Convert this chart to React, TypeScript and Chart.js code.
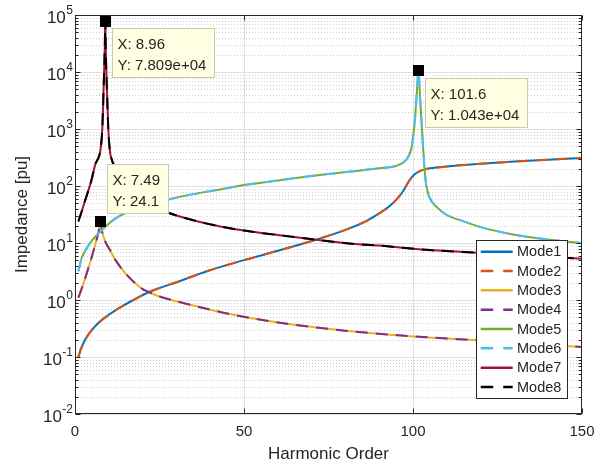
import React, { useEffect, useRef } from 'react';
import { Chart, registerables } from 'chart.js';

Chart.register(...registerables);

// ---------- data ----------
const modeLabels = ['Mode1', 'Mode2', 'Mode3', 'Mode4', 'Mode5', 'Mode6', 'Mode7', 'Mode8'];
const modeColors = ['#0072BD', '#D95319', '#EDB120', '#7E2F8E', '#77AC30', '#4DBEEE', '#A2142F', '#000000'];
const modeDashed = [false, true, false, true, false, true, false, true];

// Mode1 / Mode2 (identical curves)
const mode12X = [1, 1.5, 2, 3, 4, 5, 7, 10, 13, 17, 21, 25, 30, 39, 50, 60, 71, 80, 86, 90, 93, 95, 97, 99, 100.5, 102, 103.5, 105, 110, 120, 130, 140, 150];
const mode12Y = [0.1, 0.125, 0.15, 0.2, 0.25, 0.3, 0.4, 0.55, 0.72, 0.98, 1.3, 1.62, 2.05, 3.2, 5.0, 7.3, 11.3, 17, 24, 33, 44, 57, 80, 127, 160, 182, 196, 204, 220, 245, 268, 290, 310];

// Mode3 / Mode4
const mode34X = [1, 2, 3, 4, 5, 6, 7, 7.49, 8, 9, 10.3, 12, 15, 20, 21, 25, 30, 35, 45, 55, 66, 80, 100, 117, 135, 150];
const mode34Y = [1.1, 1.6, 2.4, 3.7, 5.8, 9.5, 16, 24.1, 16, 10.5, 7.6, 5.0, 2.9, 1.55, 1.45, 1.15, 0.95, 0.8, 0.58, 0.45, 0.36, 0.29, 0.23, 0.2, 0.17, 0.15];

// Mode5 / Mode6
const mode56X = [1, 2, 3, 5, 8, 12, 17, 22, 27, 35, 43, 50, 60, 70, 81, 90, 95, 97, 98.5, 99.5, 100.5, 101.1, 101.6, 102.1, 102.7, 103.3, 103.8, 104.8, 107, 110, 115, 120, 130, 140, 150];
const mode56Y = [3.2, 5.5, 7.3, 11, 17, 27, 38, 48, 57, 72, 87, 104, 125, 150, 178, 205, 225, 255, 320, 450, 1300, 4000, 10430, 3500, 900, 250, 115, 65, 43, 31, 24, 19, 14, 11.5, 10];

// Mode7 / Mode8
const mode78X = [1, 2, 3, 4, 5, 6, 7, 7.5, 8.07, 8.5, 8.8, 8.96, 9.1, 9.4, 9.85, 10.3, 10.8, 12, 14, 17, 20, 23, 27, 35, 43, 50, 60, 72, 81, 90, 105, 114, 130, 150];
const mode78Y = [24, 36, 56, 85, 135, 240, 320, 420, 1000, 6000, 25000, 78090, 25000, 6000, 1000, 420, 300, 200, 120, 78, 57, 45, 35, 25, 19.5, 16.5, 13.8, 11.3, 9.8, 9, 7.5, 7, 6.2, 5.3];

const curveX = [mode12X, mode12X, mode34X, mode34X, mode56X, mode56X, mode78X, mode78X];
const curveY = [mode12Y, mode12Y, mode34Y, mode34Y, mode56Y, mode56Y, mode78Y, mode78Y];

// axis ticks
const xTicks = [0, 50, 100, 150];
const xGridLines = [50, 100];
const yExponents = [-2, -1, 0, 1, 2, 3, 4, 5];

// data tips
const tipX = [8.96, 7.49, 101.6];
const tipY = [7.809e4, 24.1, 1.043e4];
const tipLines = [
  ['X: 8.96', 'Y: 7.809e+04'],
  ['X: 7.49', 'Y: 24.1'],
  ['X: 101.6', 'Y: 1.043e+04'],
];
const tipAbove = [false, true, false];

const xTitle = 'Harmonic Order';
const yTitle = 'Impedance [pu]';

const FONT = '"Liberation Sans", Arial, Helvetica, sans-serif';
const AXIS_COLOR = '#262626';

const matlabPlugin = {
  id: 'matlabAxes',
  beforeDatasetsDraw(chart: any) {
    const { ctx, chartArea: a, scales } = chart;
    const x = scales.x;
    const y = scales.y;
    ctx.save();
    // minor grid (dotted)
    ctx.lineWidth = 1;
    ctx.strokeStyle = '#cfcfcf';
    ctx.setLineDash([1, 2]);
    for (let e = -2; e < 5; e++) {
      for (let m = 2; m <= 9; m++) {
        const py = Math.round(y.getPixelForValue(m * Math.pow(10, e))) + 0.5;
        ctx.beginPath();
        ctx.moveTo(a.left, py);
        ctx.lineTo(a.right, py);
        ctx.stroke();
      }
    }
    // major grid
    ctx.setLineDash([]);
    ctx.strokeStyle = '#e0e0e0';
    for (const e of yExponents) {
      const py = Math.round(y.getPixelForValue(Math.pow(10, e))) + 0.5;
      ctx.beginPath();
      ctx.moveTo(a.left, py);
      ctx.lineTo(a.right, py);
      ctx.stroke();
    }
    for (const v of xGridLines) {
      const px = Math.round(x.getPixelForValue(v)) + 0.5;
      ctx.beginPath();
      ctx.moveTo(px, a.top);
      ctx.lineTo(px, a.bottom);
      ctx.stroke();
    }
    ctx.restore();
  },
  afterDatasetsDraw(chart: any) {
    const { ctx, chartArea: a, scales } = chart;
    const x = scales.x;
    const y = scales.y;
    ctx.save();
    ctx.setLineDash([]);
    ctx.strokeStyle = AXIS_COLOR;
    ctx.lineWidth = 1;
    const L = Math.round(a.left) + 0.5;
    const R = Math.round(a.right) - 0.5;
    const T = Math.round(a.top) + 0.5;
    const B = Math.round(a.bottom) - 0.5;
    ctx.strokeRect(L, T, R - L, B - T);
    // x ticks (inward, bottom & top)
    for (const v of xTicks) {
      const px = Math.round(x.getPixelForValue(v)) + 0.5;
      ctx.beginPath();
      ctx.moveTo(px, B);
      ctx.lineTo(px, B - 5);
      ctx.moveTo(px, T);
      ctx.lineTo(px, T + 5);
      ctx.stroke();
    }
    // y ticks major & minor
    for (let e = -2; e <= 5; e++) {
      for (let m = 1; m <= (e === 5 ? 1 : 9); m++) {
        const py = Math.round(y.getPixelForValue(m * Math.pow(10, e))) + 0.5;
        const len = m === 1 ? 5 : 3;
        ctx.beginPath();
        ctx.moveTo(L, py);
        ctx.lineTo(L + len, py);
        ctx.moveTo(R, py);
        ctx.lineTo(R - len, py);
        ctx.stroke();
      }
    }
    // x tick labels
    ctx.fillStyle = AXIS_COLOR;
    ctx.font = `15px ${FONT}`;
    ctx.textAlign = 'center';
    ctx.textBaseline = 'middle';
    for (const v of xTicks) {
      ctx.fillText(String(v), x.getPixelForValue(v), a.bottom + 18);
    }
    // y tick labels 10^e
    for (const e of yExponents) {
      const py = y.getPixelForValue(Math.pow(10, e));
      const expStr = String(e);
      ctx.font = `12px ${FONT}`;
      const ew = ctx.measureText(expStr).width;
      const right = a.left - 2;
      ctx.textAlign = 'right';
      ctx.textBaseline = 'alphabetic';
      ctx.fillText(expStr, right, py - 1);
      ctx.font = `17px ${FONT}`;
      ctx.textBaseline = 'middle';
      ctx.fillText('10', right - ew - 0.5, py + 3);
    }
    // axis titles
    ctx.font = `17px ${FONT}`;
    ctx.textAlign = 'center';
    ctx.textBaseline = 'middle';
    ctx.fillText(xTitle, (a.left + a.right) / 2, a.bottom + 40);
    ctx.save();
    ctx.translate(22, (a.top + a.bottom) / 2);
    ctx.rotate(-Math.PI / 2);
    ctx.fillText(yTitle, 0, 0);
    ctx.restore();
    ctx.restore();
  },
  afterDraw(chart: any) {
    const { ctx, scales } = chart;
    const x = scales.x;
    const y = scales.y;
    ctx.save();
    // data tips
    for (let i = 0; i < tipX.length; i++) {
      const px = x.getPixelForValue(tipX[i]);
      const py = y.getPixelForValue(tipY[i]);
      ctx.font = `15px ${FONT}`;
      const tw = Math.max(...tipLines[i].map((s) => ctx.measureText(s).width));
      const bw = Math.round(tw + 13);
      const bh = 49;
      const bx = Math.round(px + 6.5) + 0.5;
      const by = tipAbove[i] ? Math.round(py - 8 - bh) + 0.5 : Math.round(py + 7) + 0.5;
      ctx.fillStyle = '#ffffe1';
      ctx.strokeStyle = '#c8c8b4';
      ctx.lineWidth = 1;
      ctx.fillRect(bx, by, bw, bh);
      ctx.strokeRect(bx, by, bw, bh);
      ctx.fillStyle = AXIS_COLOR;
      ctx.textAlign = 'left';
      ctx.textBaseline = 'middle';
      ctx.fillText(tipLines[i][0], bx + 5, by + 16);
      ctx.fillText(tipLines[i][1], bx + 5, by + 37);
      // marker
      ctx.fillStyle = '#000000';
      ctx.fillRect(Math.round(px - 5.5), Math.round(py - 5.5), 11, 11);
    }
    // legend
    const lx = 476.5;
    const ly = 240.5;
    const lw = 91;
    const lh = 158;
    ctx.fillStyle = '#ffffff';
    ctx.fillRect(lx, ly, lw, lh);
    ctx.strokeStyle = '#262626';
    ctx.lineWidth = 1;
    ctx.strokeRect(lx, ly, lw, lh);
    ctx.font = `14.5px ${FONT}`;
    ctx.textAlign = 'left';
    ctx.textBaseline = 'middle';
    for (let i = 0; i < modeLabels.length; i++) {
      const ry = 251.7 + i * 19.33;
      ctx.strokeStyle = modeColors[i];
      ctx.lineWidth = 2.5;
      ctx.setLineDash(modeDashed[i] ? [12.5, 10] : []);
      ctx.beginPath();
      ctx.moveTo(480.7, ry);
      ctx.lineTo(512.7, ry);
      ctx.stroke();
      ctx.setLineDash([]);
      ctx.fillStyle = AXIS_COLOR;
      ctx.fillText(modeLabels[i], 517, ry + 0.5);
    }
    ctx.restore();
  },
};

export default function App() {
  const canvasRef = useRef<HTMLCanvasElement | null>(null);

  useEffect(() => {
    const canvas = canvasRef.current;
    if (!canvas) return;
    const datasets = modeLabels.map((label, i) => ({
      label,
      data: curveX[i].map((xv, k) => ({ x: xv, y: curveY[i][k] })),
      borderColor: modeColors[i],
      backgroundColor: modeColors[i],
      borderWidth: 2,
      borderDash: modeDashed[i] ? [12, 8] : [],
      cubicInterpolationMode: 'monotone' as const,
      pointRadius: 0,
      fill: false,
      order: modeLabels.length - i,
    }));
    const chart = new Chart(canvas, {
      type: 'line',
      data: { datasets },
      options: {
        animation: false,
        responsive: false,
        maintainAspectRatio: false,
        devicePixelRatio: 1,
        layout: { padding: { left: 75, right: 27, top: 15, bottom: 50 } },
        scales: {
          x: { type: 'linear', min: 0, max: 150, display: false },
          y: { type: 'logarithmic', min: 0.01, max: 100000, display: false },
        },
        plugins: { legend: { display: false }, tooltip: { enabled: false } },
        elements: { point: { radius: 0 } },
      },
      plugins: [matlabPlugin],
    } as any);
    return () => chart.destroy();
  }, []);

  return (
    <div style={{ position: 'absolute', left: 0, top: 0, width: 609, height: 464, background: '#ffffff' }}>
      <canvas ref={canvasRef} width={609} height={464} style={{ display: 'block' }} />
    </div>
  );
}
